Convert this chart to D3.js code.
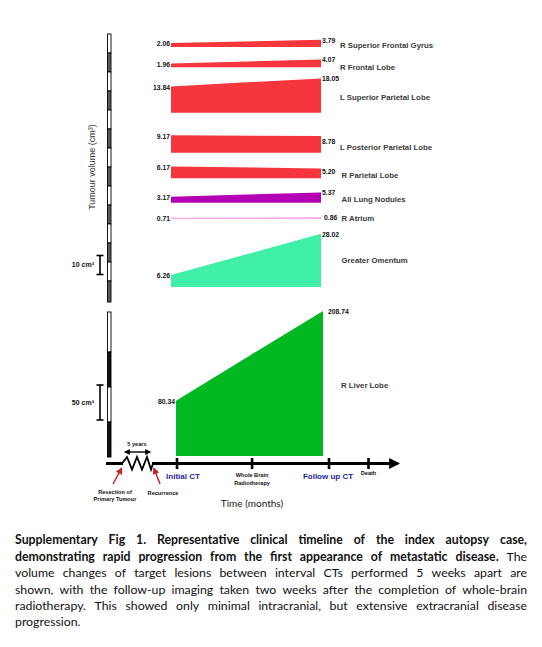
<!DOCTYPE html>
<html><head><meta charset="utf-8">
<script src="https://cdn.jsdelivr.net/npm/d3@7"></script>
<style>
html,body{margin:0;padding:0;background:#fff;}
svg{display:block;}
</style></head>
<body>
<svg id="chart" width="542" height="647"></svg>
<script>
// ---------------- DATA ----------------
const organs = ["R Superior Frontal Gyrus","R Frontal Lobe","L Superior Parietal Lobe","L Posterior Parietal Lobe","R Parietal Lobe","All Lung Nodules","R Atrium","Greater Omentum"];
const initialCT = [2.06, 1.96, 13.84, 9.17, 6.17, 3.17, 0.71, 6.26];
const followUpCT = [3.79, 4.07, 18.05, 8.78, 5.20, 5.37, 0.86, 28.02];
const liverOrgan = "R Liver Lobe";
const liverInitialCT = 80.34;
const liverFollowUpCT = 208.74;
const timelineEvents = ["Initial CT", "Whole Brain\nRadiotherapy", "Follow up CT", "Death"];
const timelineWeeks = [0, 2.47, 5, 6.3];
const scaleBarLabels = ["10 cm³", "50 cm³"];
const scaleBarValues = [10, 50];
const caption = [
  [["Supplementary Fig 1. Representative clinical timeline of the index autopsy case,", true]],
  [["demonstrating rapid progression from the first appearance of metastatic disease.", true], ["The", false]],
  [["volume changes of target lesions between interval CTs performed 5 weeks apart are", false]],
  [["shown, with the follow-up imaging taken two weeks after the completion of whole-brain", false]],
  [["radiotherapy. This showed only minimal intracranial, but extensive extracranial disease", false]],
  [["progression.", false]]
];

// ---------------- LAYOUT / STYLE ----------------
const organColors = ["#f5363c","#f5363c","#f5363c","#f5363c","#f5363c","#b400b4","#ffa6ec","#40f0a8"];
const liverColor = "#00b822";
const laneBottom = [47, 67.2, 112.7, 152.7, 178.3, 202.7, 219, 287];
const laneLabelY = [45, 67, 97, 147, 175, 199, 218, 260];
const arial = "'Liberation Sans', Arial, sans-serif";
const calibri = "Lato, 'Open Sans', sans-serif";

const svg = d3.select("#chart");

// scales
const hUpper = d3.scaleLinear().domain([0, 10]).range([0, 19]);   // px per cm3 (upper panel)
const yLower = d3.scaleLinear().domain([0, 50]).range([457, 422]); // lower panel
const xTime = d3.scaleLinear().domain([0, 5]).range([177, 329]);
const xUpper = d3.scaleLinear().domain([0, 1]).range([171, 321]);
const xLiver = d3.scaleLinear().domain([0, 1]).range([176, 323]);

// ---------- upper axis (segmented) ----------
const upAxisTop = 34, upAxisBot = 302;
const segs = d3.range(upAxisTop, 300, hUpper(10));
segs.forEach((s, i) => {
  const e = (i === segs.length - 1) ? upAxisBot : s + hUpper(10);
  svg.append("rect").attr("x", 107.5).attr("y", s).attr("width", 3.5).attr("height", e - s)
    .attr("fill", i % 2 === 0 ? "#fff" : "#5a5a5a").attr("stroke", "#000").attr("stroke-width", 0.9);
});
// lower axis
const lowSegTop = 312;
const lowBounds = [312, yLower(150), yLower(100), yLower(50), yLower(0)];
for (let i = 0; i < lowBounds.length - 1; i++) {
  svg.append("rect").attr("x", 107.5).attr("y", lowBounds[i]).attr("width", 3.5).attr("height", lowBounds[i+1] - lowBounds[i])
    .attr("fill", i % 2 === 0 ? "#fff" : "#111").attr("stroke", "#000").attr("stroke-width", 0.9);
}

// y title
svg.append("text").attr("transform", "translate(95,167) rotate(-90)")
  .attr("text-anchor", "middle").attr("font-family", arial).attr("font-size", 9).attr("fill", "#333")
  .text("Tumour volume (cm³)");

// scale bars
function scaleBar(yBottom, hpx, label) {
  const g = svg.append("g").attr("stroke", "#000").attr("stroke-width", 1.6);
  g.append("line").attr("x1", 100).attr("x2", 100).attr("y1", yBottom).attr("y2", yBottom - hpx);
  g.append("line").attr("x1", 96.5).attr("x2", 103.5).attr("y1", yBottom).attr("y2", yBottom);
  g.append("line").attr("x1", 96.5).attr("x2", 103.5).attr("y1", yBottom - hpx).attr("y2", yBottom - hpx);
  svg.append("text").attr("x", 94).attr("y", yBottom - hpx / 2).attr("dy", "0.35em")
    .attr("text-anchor", "end").attr("font-family", arial).attr("font-weight", "bold")
    .attr("font-size", 7).attr("fill", "#111").text(label);
}
scaleBar(274.5, hUpper(scaleBarValues[0]), scaleBarLabels[0]);
scaleBar(yLower(50) - 2, yLower(0) - yLower(scaleBarValues[1]), scaleBarLabels[1]);

// ---------- upper panel shapes ----------
const area = d3.area().x(d => d.x).y0(d => d.y0).y1(d => d.y1);
organs.forEach((name, i) => {
  const b = laneBottom[i];
  const pts = [
    {x: xUpper(0), y0: b, y1: b - Math.max(hUpper(initialCT[i]), 1.3)},
    {x: xUpper(1), y0: b, y1: b - Math.max(hUpper(followUpCT[i]), 1.3)}
  ];
  svg.append("path").attr("d", area(pts)).attr("fill", organColors[i]);
  svg.append("text").attr("x", xUpper(0) - 1).attr("y", pts[0].y1 + 1).attr("dy", "0.35em")
    .attr("text-anchor", "end").attr("font-family", arial).attr("font-weight", "bold")
    .attr("font-size", 6.8).attr("fill", "#111").text(initialCT[i].toFixed(2));
  svg.append("text").attr("x", xUpper(1) + (i === 6 ? 3 : 1)).attr("y", pts[1].y1 + (i === 3 ? 6 : i === 4 ? 3 : 0.5)).attr("dy", "0.35em")
    .attr("text-anchor", "start").attr("font-family", arial).attr("font-weight", "bold")
    .attr("font-size", 6.8).attr("fill", "#111").text(followUpCT[i].toFixed(2));
  svg.append("text").attr("x", 340 + (i >= 4 ? 1.5 : 0)).attr("y", laneLabelY[i]).attr("dy", "0.35em")
    .attr("font-family", arial).attr("font-weight", "bold").attr("font-size", 7.8).attr("fill", "#3a3a3a")
    .text(name);
});

// ---------- liver ----------
const liverPts = [
  {x: xLiver(0), y0: yLower(0) - 1, y1: yLower(liverInitialCT)},
  {x: xLiver(1), y0: yLower(0) - 1, y1: yLower(liverFollowUpCT)}
];
svg.append("path").attr("d", area(liverPts)).attr("fill", liverColor);
svg.append("text").attr("x", xLiver(0) - 1).attr("y", liverPts[0].y1 + 1).attr("dy", "0.35em")
  .attr("text-anchor", "end").attr("font-family", arial).attr("font-weight", "bold")
  .attr("font-size", 6.8).attr("fill", "#111").text(liverInitialCT.toFixed(2));
svg.append("text").attr("x", xLiver(1) + 5).attr("y", liverPts[1].y1 + 1).attr("dy", "0.35em")
  .attr("text-anchor", "start").attr("font-family", arial).attr("font-weight", "bold")
  .attr("font-size", 6.8).attr("fill", "#111").text(liverFollowUpCT.toFixed(2));
svg.append("text").attr("x", 341).attr("y", 385).attr("dy", "0.35em")
  .attr("font-family", arial).attr("font-weight", "bold").attr("font-size", 7.8).attr("fill", "#3a3a3a")
  .text(liverOrgan);

// ---------- timeline ----------
const defs = svg.append("defs");
function marker(id, color, size) {
  defs.append("marker").attr("id", id).attr("viewBox", "0 0 10 10").attr("refX", 8).attr("refY", 5)
    .attr("markerWidth", size).attr("markerHeight", size).attr("orient", "auto-start-reverse")
    .attr("markerUnits", "userSpaceOnUse")
    .append("path").attr("d", "M0,0 L10,5 L0,10 Z").attr("fill", color);
}
marker("arrBlack", "#000", 11);
marker("arrSmall", "#000", 6);
marker("arrRed", "#c1272d", 7);

const tY = 463.5;
svg.append("line").attr("x1", 106).attr("x2", 123).attr("y1", tY).attr("y2", tY).attr("stroke", "#000").attr("stroke-width", 3);
svg.append("line").attr("x1", 152).attr("x2", 398).attr("y1", tY).attr("y2", tY).attr("stroke", "#000").attr("stroke-width", 3)
  .attr("marker-end", "url(#arrBlack)");
svg.append("path").attr("d", "M122,463.5 L127,457 L132,469.5 L137,457 L142,469.5 L147,457 L151,469.5 L153,463.5")
  .attr("fill", "none").attr("stroke", "#000").attr("stroke-width", 1.8).attr("stroke-linejoin", "miter");

// 5 years
svg.append("line").attr("x1", 125).attr("x2", 150).attr("y1", 452).attr("y2", 452)
  .attr("stroke", "#000").attr("stroke-width", 1.4)
  .attr("marker-start", "url(#arrSmall)").attr("marker-end", "url(#arrSmall)");
svg.append("text").attr("x", 137).attr("y", 444).attr("dy", "0.35em").attr("text-anchor", "middle")
  .attr("font-family", arial).attr("font-weight", "bold").attr("font-size", 5.6).attr("fill", "#111").text("5 years");

// event ticks and labels
timelineEvents.forEach((ev, i) => {
  const x = xTime(timelineWeeks[i]);
  svg.append("rect").attr("x", x - 1.3).attr("y", tY - 5.5).attr("width", 2.6).attr("height", 11).attr("fill", "#000");
  const lines = ev.split("\n");
  const big = (i === 0 || i === 2);
  const t = svg.append("text").attr("text-anchor", "middle").attr("font-family", arial).attr("font-weight", "bold")
    .attr("font-size", big ? 8 : 5.6).attr("fill", big ? "#1f1f9e" : "#111");
  const xOff = i === 0 ? 6 : (i === 2 ? -1 : 0);
  const y0 = big ? 476 : (i === 3 ? 473 : 475.5);
  lines.forEach((l, j) => t.append("tspan").attr("x", x + xOff).attr("y", y0 + j * 7.5).attr("dy", "0.35em").text(l));
});

// red arrows
svg.append("line").attr("x1", 113).attr("y1", 484).attr("x2", 121.5).attr("y2", 468.5)
  .attr("stroke", "#c1272d").attr("stroke-width", 1.5).attr("marker-end", "url(#arrRed)");
svg.append("line").attr("x1", 160).attr("y1", 484).attr("x2", 154).attr("y2", 468.5)
  .attr("stroke", "#c1272d").attr("stroke-width", 1.5).attr("marker-end", "url(#arrRed)");
const rt = svg.append("text").attr("text-anchor", "middle").attr("font-family", arial).attr("font-weight", "bold")
  .attr("font-size", 5.6).attr("fill", "#111");
rt.append("tspan").attr("x", 115).attr("y", 492).attr("dy", "0.35em").text("Resection of");
rt.append("tspan").attr("x", 115).attr("y", 499.5).attr("dy", "0.35em").text("Primary Tumour");
svg.append("text").attr("x", 163).attr("y", 493).attr("dy", "0.35em").attr("text-anchor", "middle")
  .attr("font-family", arial).attr("font-weight", "bold").attr("font-size", 5.6).attr("fill", "#111").text("Recurrence");

svg.append("text").attr("x", 252).attr("y", 503).attr("dy", "0.35em").attr("text-anchor", "middle")
  .attr("font-family", calibri).attr("font-size", 10).attr("fill", "#222").text("Time (months)");

// ---------- caption (justified) ----------
const capX0 = 15, capX1 = 527, capFs = 12.3;
const capBase = [544, 560.5, 577, 593.5, 610, 626];
caption.forEach((segsL, li) => {
  const words = [];
  segsL.forEach(([txt, bold]) => txt.split(" ").forEach(w => words.push({w, bold})));
  const g = svg.append("g");
  const nodes = words.map(o => g.append("text").attr("font-family", calibri).attr("font-size", capFs)
    .attr("font-weight", o.bold ? "bold" : "normal").attr("fill", "#111").attr("y", capBase[li]).text(o.w));
  const widths = nodes.map(n => n.node().getComputedTextLength());
  const total = d3.sum(widths);
  const last = li === caption.length - 1;
  const gap = last ? capFs * 0.26 : (capX1 - capX0 - total) / (words.length - 1);
  let x = capX0;
  nodes.forEach((n, k) => { n.attr("x", x); x += widths[k] + gap; });
});
</script>
</body></html>
